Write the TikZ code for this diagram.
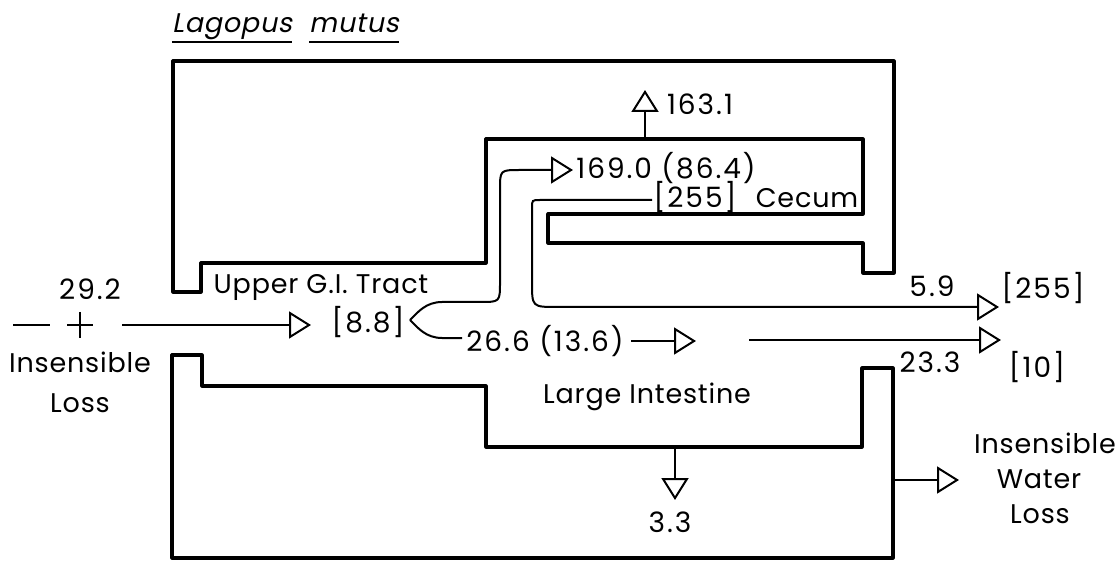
\documentclass[tikz,border=0pt]{standalone}
\usepackage{fontspec}
\setmainfont[LetterSpace=3]{Poppins}
\newfontfamily\slfont[FakeSlant=0.2,LetterSpace=3]{Poppins}
\newfontfamily\numfont[LetterSpace=7]{Poppins}
\usetikzlibrary{arrows.meta}
\newcommand\lblsize{\fontsize{27}{30}\selectfont}
\newcommand\numsize{\numfont\fontsize{28}{30}\selectfont}
\begin{document}
\begin{tikzpicture}[x=1pt,y=-1pt,
  box/.style={line width=3.2pt, line join=round},
  flow/.style={line width=2.0pt},
  tri/.style={-{Triangle[open,length=22pt,width=27pt,line width=2.0pt]}},
  lbl/.style={inner sep=0pt, anchor=base, font=\lblsize},
  num/.style={inner sep=0pt, anchor=base, font=\numsize},
  uline/.style={line width=1.3pt}
]
\useasboundingbox (0,0) rectangle (1119,561);

% title
\node[lbl, font=\slfont\lblsize] (lag) at (232,33) {Lagopus};
\node[lbl, font=\slfont\lblsize] (mut) at (354,33) {mutus};
\draw[uline] ([yshift=-9pt]lag.base west) -- ([yshift=-9pt]lag.base east);
\draw[uline] ([yshift=-9pt]mut.base west) -- ([yshift=-9pt]mut.base east);

% upper G.I. tract + cecum outline
\draw[box] (173,61) -- (894,61) -- (894,273) -- (863,273) -- (863,243)
  -- (548,243) -- (548,214) -- (863,214) -- (863,139) -- (486,139)
  -- (486,263) -- (201,263) -- (201,292) -- (173,292) -- cycle;

% large intestine outline
\draw[box] (172,355) -- (202,355) -- (202,386) -- (486,386) -- (486,447)
  -- (862,447) -- (862,368) -- (893,368) -- (893,558) -- (172,558) -- cycle;

% texts
\node[num] (n163) at (700,115) {163.1};
\node[num] (n169) at (666,179) {169.0 (86.4)};
\node[num] (c255) at (695,208) {[255]};
\node[lbl] (cec) at (807,208) {Cecum};
\node[lbl] (ugi) at (321,294) {Upper G.I. Tract};
\node[num] (n292) at (90,300) {29.2};
\node[lbl] (ins1) at (80,372) {Insensible};
\node[lbl] (los1) at (80,412) {Loss};
\node[num] (n88) at (368,332) {[8.8]};
\node[num] (n266) at (545,352) {26.6 (13.6)};
\node[lbl] (li) at (647,403) {Large Intestine};
\node[num] (n33) at (670,532) {3.3};
\node[num] (n59) at (932,297) {5.9};
\node[num] (o255) at (1043,299) {[255]};
\node[num] (n233) at (930,372) {23.3};
\node[num] (o10) at (1037,377) {[10]};
\node[lbl] (ins2) at (1045,453) {Insensible};
\node[lbl] (wat) at (1039,488) {Water};
\node[lbl] (los2) at (1040,523) {Loss};

% coordinates
\coordinate (in0) at (13,325);
\coordinate (in1) at (50,325);
\coordinate (in2) at (122,325);
\coordinate (t88) at (311,325);
\coordinate (S) at (410,320);
\coordinate (t169) at (573,170);
\coordinate (e266) at (462,338);
\coordinate (a266) at (631,341);
\coordinate (t266) at (696,341);
\coordinate (a10) at (749,340);
\coordinate (t10) at (1001,340);
\coordinate (c255a) at (652,200);
\coordinate (t255) at (999,307);
\coordinate (b163) at (645,139);
\coordinate (t163) at (645,90);
\coordinate (b33) at (675,447);
\coordinate (t33) at (675,500);
\coordinate (bw) at (893,480);
\coordinate (tw) at (959,480);

% intake
\draw[flow] (in0) -- (in1);
\draw[flow] (67,325) -- (93,325) (80,312) -- (80,338);
\draw[flow,tri] (in2) -- (t88);

% split at [8.8]
\draw[flow,tri] (S) .. controls (418,312) and (426,302) .. (442,302) -- (480,302)
  .. controls (500,302) .. (500,282) -- (500,190) .. controls (500,170) .. (520,170) -- (t169);
\draw[flow] (S) .. controls (418,328) and (426,338) .. (442,338) -- (e266);
\draw[flow,tri] (a266) -- (t266);
\draw[flow,tri] (a10) -- (t10);

% cecum output
\draw[flow,tri] (c255a) -- (540,200) .. controls (532,200) .. (532,208) -- (532,282)
  .. controls (532,307) .. (557,307) -- (t255);

% losses
\draw[flow,tri] (b163) -- (t163);
\draw[flow,tri] (b33) -- (t33);
\draw[flow,tri] (bw) -- (tw);
\end{tikzpicture}
\end{document}
